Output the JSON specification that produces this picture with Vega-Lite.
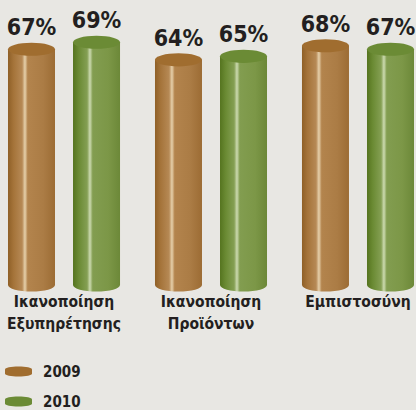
{
  "$schema": "https://vega.github.io/schema/vega-lite/v6.json",
  "width": 422,
  "height": 285,
  "padding": {"left": 0, "top": 0, "right": 0, "bottom": 0},
  "background": "#e8e7e3",
  "config": {"view": {"stroke": null}},
  "data": {"values": [
    {"cat": "Ικανοποίηση Εξυπηρέτησης", "year": "2009", "value": 67},
    {"cat": "Ικανοποίηση Εξυπηρέτησης", "year": "2010", "value": 69},
    {"cat": "Ικανοποίηση Προϊόντων", "year": "2009", "value": 64},
    {"cat": "Ικανοποίηση Προϊόντων", "year": "2010", "value": 65},
    {"cat": "Εμπιστοσύνη", "year": "2009", "value": 68},
    {"cat": "Εμπιστοσύνη", "year": "2010", "value": 67}
  ]},
  "encoding": {
    "x": {"field": "cat", "type": "nominal", "sort": null,
      "scale": {"paddingInner": 0.129, "paddingOuter": 0},
      "axis": {"title": null, "domain": false, "ticks": false, "grid": false, "labelAngle": 0,
        "labelFont": "DejaVu Sans Condensed, sans-serif",
        "labelFontSize": 15.5, "labelFontWeight": "bold", "labelColor": "#231f20",
        "labelPadding": 9, "labelLineHeight": 22, "labelBaseline": "top",
        "labelExpr": "split(datum.label, ' ')"}},
    "xOffset": {"field": "year", "type": "nominal", "scale": {"paddingInner": 0.277, "paddingOuter": 0.123}},
    "y": {"field": "value", "type": "quantitative", "scale": {"domain": [0, 81]}, "axis": null}
  },
  "layer": [
    {
      "transform": [{"filter": "datum.year == '2009'"}],
      "mark": {"type": "point", "filled": true, "opacity": 1, "strokeWidth": 0, "size": 2209,
        "shape": "M-1,0A1,0.28,0,1,0,1,0A1,0.28,0,1,0,-1,0Z",
        "fill": {"gradient": "linear", "x1": 0, "x2": 1, "y1": 0, "y2": 0, "stops": [
          {"offset": 0, "color": "#8f6027"}, {"offset": 0.12, "color": "#a5743a"},
          {"offset": 0.3, "color": "#b68955"}, {"offset": 0.36, "color": "#e6d0ab"},
          {"offset": 0.42, "color": "#b3844d"}, {"offset": 0.75, "color": "#ab7c45"},
          {"offset": 1, "color": "#9c6c34"}]}},
      "encoding": {"y": {"datum": 0}}
    },
    {
      "transform": [{"filter": "datum.year == '2010'"}],
      "mark": {"type": "point", "filled": true, "opacity": 1, "strokeWidth": 0, "size": 2209,
        "shape": "M-1,0A1,0.28,0,1,0,1,0A1,0.28,0,1,0,-1,0Z",
        "fill": {"gradient": "linear", "x1": 0, "x2": 1, "y1": 0, "y2": 0, "stops": [
          {"offset": 0, "color": "#55741f"}, {"offset": 0.12, "color": "#6a8a33"},
          {"offset": 0.3, "color": "#849f53"}, {"offset": 0.36, "color": "#ccdab0"},
          {"offset": 0.42, "color": "#829d50"}, {"offset": 0.75, "color": "#7c9747"},
          {"offset": 1, "color": "#6c8838"}]}},
      "encoding": {"y": {"datum": 0}}
    },
    {
      "transform": [{"filter": "datum.year == '2009'"}],
      "mark": {"type": "bar",
        "fill": {"gradient": "linear", "x1": 0, "x2": 1, "y1": 0, "y2": 0, "stops": [
          {"offset": 0, "color": "#8f6027"}, {"offset": 0.12, "color": "#a5743a"},
          {"offset": 0.3, "color": "#b68955"}, {"offset": 0.36, "color": "#e6d0ab"},
          {"offset": 0.42, "color": "#b3844d"}, {"offset": 0.75, "color": "#ab7c45"},
          {"offset": 1, "color": "#9c6c34"}]}}
    },
    {
      "transform": [{"filter": "datum.year == '2010'"}],
      "mark": {"type": "bar",
        "fill": {"gradient": "linear", "x1": 0, "x2": 1, "y1": 0, "y2": 0, "stops": [
          {"offset": 0, "color": "#55741f"}, {"offset": 0.12, "color": "#6a8a33"},
          {"offset": 0.3, "color": "#849f53"}, {"offset": 0.36, "color": "#ccdab0"},
          {"offset": 0.42, "color": "#829d50"}, {"offset": 0.75, "color": "#7c9747"},
          {"offset": 1, "color": "#6c8838"}]}}
    },
    {
      "mark": {"type": "point", "filled": true, "opacity": 1, "strokeWidth": 0, "size": 2209,
        "shape": "M-1,0A1,0.28,0,1,0,1,0A1,0.28,0,1,0,-1,0Z"},
      "encoding": {
        "color": {"field": "year", "type": "nominal",
          "scale": {"domain": ["2009", "2010"], "range": ["#a06d2f", "#6b8b35"]},
          "legend": {"title": null, "orient": "none", "legendX": 5, "legendY": 358, "direction": "vertical",
            "symbolType": "M-1,-0.17A1,0.2,0,0,1,1,-0.17L1,0.17A1,0.2,0,0,1,-1,0.17Z",
            "symbolSize": 729, "symbolStrokeWidth": 0, "symbolOpacity": 1,
            "labelFont": "DejaVu Sans Condensed, sans-serif",
            "labelFontSize": 15, "labelFontWeight": "bold", "labelColor": "#231f20",
            "labelOffset": 11, "rowPadding": 8, "padding": 0}}
      }
    },
    {
      "transform": [{"calculate": "datum.value + '%'", "as": "label"}],
      "mark": {"type": "text", "dy": -14, "baseline": "alphabetic", "align": "center",
        "font": "DejaVu Sans Condensed, sans-serif",
        "fontSize": 23, "fontWeight": "bold", "color": "#231f20"},
      "encoding": {"text": {"field": "label"}}
    }
  ]
}
